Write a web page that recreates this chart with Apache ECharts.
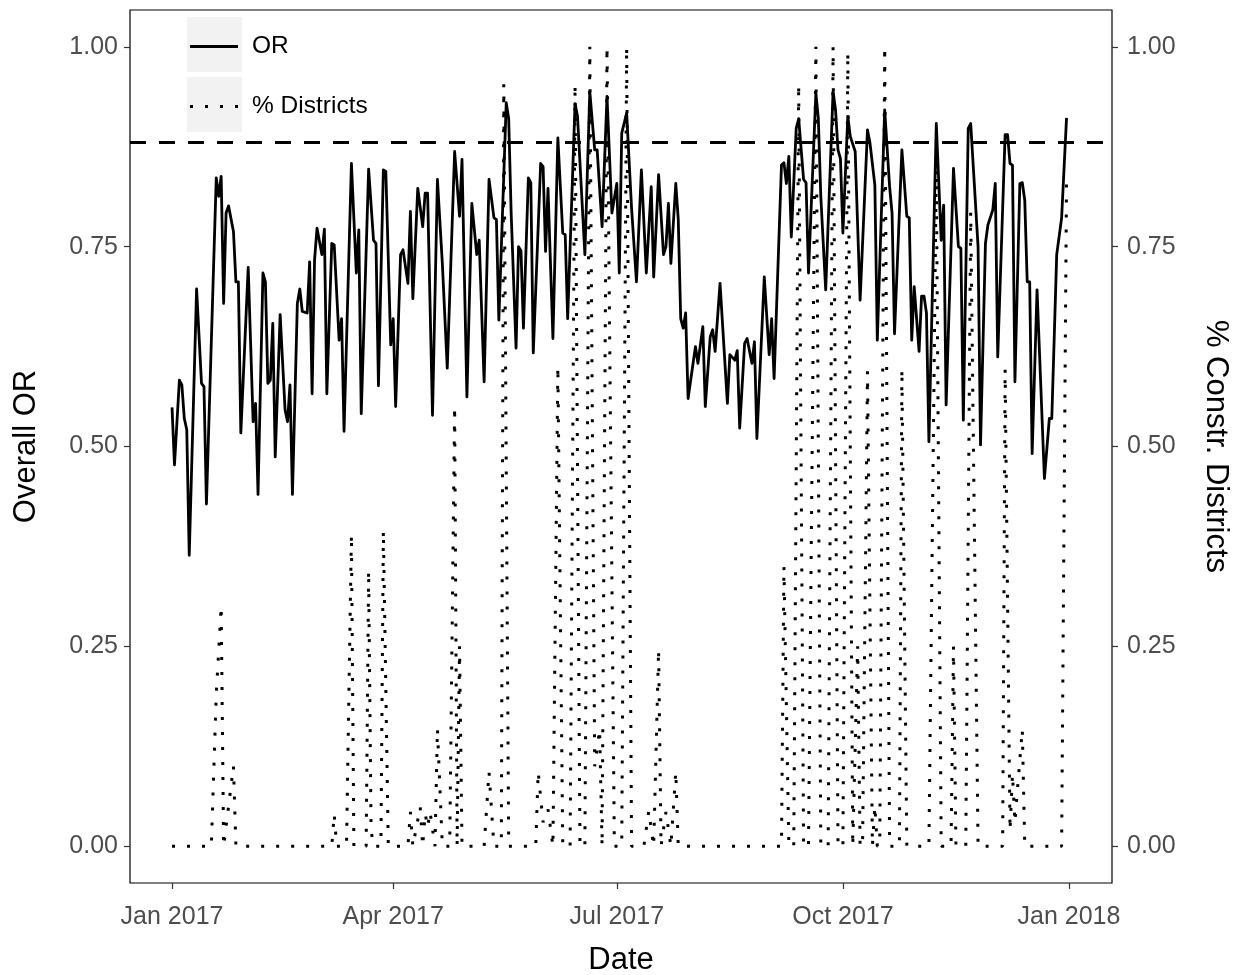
<!DOCTYPE html>
<html><head><meta charset="utf-8">
<script src="https://cdn.jsdelivr.net/npm/echarts@6/dist/echarts.min.js"></script>
<style>html,body{margin:0;padding:0;background:#fff}#chart{width:1233px;height:975px}</style>
</head><body><div id="chart"></div>
<script>
// Dates are stored as day offsets from startDate
const startDate = '2017-01-01';

const orDay = [0,1,3,4,5,6,7,10,12,13,14,18,19,20,21,22,23,25,26,27,28,31,33,34,35,37,38,39,40,41,42,44,46,47,48,49,51,52,53,55,56,57,58,59,61,62,63,65,66,68,69,70,73,75,76,77,80,82,83,84,86,87,89,90,91,93,94,96,97,98,100,102,103,104,106,108,110,112,115,117,118,120,122,124,125,127,129,131,132,133,136,137,138,140,141,142,143,145,146,147,150,151,152,153,155,157,159,160,161,164,165,168,170,172,173,175,177,179,181,182,183,185,187,189,191,193,195,196,198,200,201,202,203,205,206,207,208,209,210,213,214,216,217,219,220,221,223,226,227,229,230,231,233,234,236,237,238,241,243,244,245,248,249,250,251,252,254,255,257,258,259,262,263,264,266,269,270,271,272,273,275,276,278,280,283,284,286,287,290,292,293,294,297,298,299,300,301,302,304,305,306,307,308,311,313,314,315,318,320,321,322,324,325,328,329,331,332,334,335,336,339,340,341,342,343,345,346,347,348,349,350,352,355,357,358,360,362,364];
const orValue = [0.549,0.477,0.583,0.577,0.535,0.521,0.364,0.697,0.579,0.575,0.428,0.836,0.813,0.838,0.679,0.792,0.801,0.769,0.706,0.706,0.517,0.724,0.531,0.554,0.440,0.717,0.706,0.579,0.583,0.654,0.487,0.665,0.546,0.531,0.577,0.440,0.679,0.697,0.669,0.667,0.731,0.566,0.733,0.773,0.740,0.772,0.566,0.754,0.752,0.633,0.660,0.519,0.854,0.717,0.771,0.541,0.847,0.758,0.754,0.576,0.846,0.844,0.627,0.660,0.550,0.740,0.746,0.704,0.794,0.685,0.823,0.775,0.817,0.817,0.539,0.834,0.729,0.598,0.869,0.788,0.859,0.562,0.804,0.740,0.758,0.581,0.834,0.786,0.784,0.658,0.930,0.910,0.792,0.623,0.750,0.745,0.648,0.836,0.830,0.617,0.854,0.850,0.744,0.823,0.635,0.886,0.767,0.765,0.660,0.929,0.913,0.740,0.944,0.871,0.871,0.775,0.938,0.792,0.829,0.717,0.892,0.917,0.798,0.706,0.846,0.717,0.825,0.712,0.840,0.740,0.750,0.804,0.729,0.829,0.784,0.660,0.648,0.667,0.560,0.625,0.604,0.650,0.550,0.637,0.646,0.619,0.704,0.554,0.615,0.608,0.620,0.523,0.629,0.635,0.604,0.631,0.510,0.712,0.615,0.660,0.585,0.852,0.855,0.829,0.863,0.762,0.898,0.910,0.834,0.830,0.717,0.942,0.910,0.813,0.696,0.944,0.921,0.871,0.860,0.767,0.913,0.888,0.869,0.683,0.896,0.880,0.827,0.633,0.921,0.825,0.792,0.641,0.871,0.830,0.788,0.786,0.633,0.700,0.619,0.688,0.688,0.667,0.506,0.904,0.758,0.802,0.552,0.848,0.750,0.748,0.533,0.898,0.904,0.750,0.502,0.754,0.777,0.796,0.829,0.612,0.890,0.890,0.854,0.852,0.581,0.829,0.830,0.808,0.706,0.706,0.491,0.696,0.460,0.535,0.535,0.740,0.786,0.911];

const districtDay = [0,16,18,20,21,25,26,65,66,67,71,73,74,79,80,81,82,85,86,88,96,97,98,101,102,103,104,105,107,108,110,113,115,116,117,118,127,129,131,134,135,137,148,149,151,153,155,157,159,162,164,166,168,170,172,174,175,177,180,183,185,187,192,194,196,198,199,201,203,205,206,248,249,251,253,255,257,259,262,264,267,269,271,273,275,277,279,280,281,283,285,286,287,288,290,292,296,297,299,308,311,313,317,318,319,323,325,328,338,339,341,342,343,344,346,347,362,364];
const districtValue = [0,0,0.19,0.30,0,0.10,0,0,0.04,0,0,0.39,0,0,0.345,0.02,0,0,0.395,0,0,0.043,0,0.049,0,0.041,0.024,0.043,0,0.147,0,0,0.55,0,0.25,0,0,0.093,0,0,0.953,0,0,0.093,0.03,0.046,0,0.60,0,0,0.953,0,0,1.0,0.10,0.146,0,1.0,0,0,1.0,0,0,0.044,0,0.246,0,0.043,0,0.093,0,0,0.35,0,0,0.953,0,0,1.0,0,0,1.0,0,0,0.993,0,0.25,0,0,0.594,0,0.05,0,0,1.0,0,0,0.597,0,0,0.847,0,0,0.25,0,0,0.793,0,0,0.597,0.02,0.09,0.03,0.07,0.146,0,0,0.834];

const targetOR = 0.88;
const tickDates = ['2017-01-01','2017-04-01','2017-07-01','2017-10-01','2018-01-01'];
const tickLabels = ['Jan 2017','Apr 2017','Jul 2017','Oct 2017','Jan 2018'];
const yTicks = [0, 0.25, 0.5, 0.75, 1];
const seriesNames = ['OR', '% Districts'];

const DAY = 86400000;
const t0 = Date.parse(startDate + 'T00:00:00Z');
const toTime = d => t0 + d * DAY;
const orData = orDay.map((d, i) => [toTime(d), orValue[i]]);
const districtData = districtDay.map((d, i) => [toTime(d), districtValue[i]]);
const tickTimes = tickDates.map(s => Date.parse(s + 'T00:00:00Z'));

const FONT = 'Liberation Sans, Arial, Helvetica, sans-serif';
const tickFont = 25, titleFont = 31, legendFont = 24.5;

const chart = echarts.init(document.getElementById('chart'), null, {renderer: 'canvas'});

function yAxisCfg(name, pos, rot, labelMargin) {
  return {
    type: 'value', position: pos, min: -0.046, max: 1.046,
    name: name, nameLocation: 'middle', nameGap: 88, nameRotate: rot,
    nameTextStyle: {fontFamily: FONT, fontSize: titleFont, color: '#000'},
    splitLine: {show: false},
    axisLine: {show: false, onZero: false},
    axisTick: {show: true, customValues: yTicks, length: 6, inside: false, lineStyle: {color: '#333', width: 1.2}},
    axisLabel: {customValues: yTicks, formatter: v => v.toFixed(2), fontFamily: FONT, fontSize: tickFont, color: '#4d4d4d', margin: labelMargin}
  };
}

chart.setOption({
  animation: false,
  backgroundColor: '#fff',
  grid: {left: 130, right: 121, top: 10, bottom: 92, show: true, borderColor: '#000', borderWidth: 1.2, containLabel: false, outerBoundsMode: 'none'},
  graphic: [
    {type: 'rect', z: 1, shape: {x: 187, y: 17, width: 55, height: 55}, style: {fill: '#f2f2f2'}},
    {type: 'rect', z: 1, shape: {x: 187, y: 77, width: 55, height: 55}, style: {fill: '#f2f2f2'}}
  ],
  legend: {
    orient: 'vertical', left: 190, top: 34, padding: 0, itemWidth: 48, itemHeight: 3, itemGap: 35,
    data: [
      {name: seriesNames[0], icon: 'path://M0,0H48V3H0Z'},
      {name: seriesNames[1], icon: 'path://M0,0H3V3H0Z M15,0H18V3H15Z M30,0H33V3H30Z M45,0H48V3H45Z'}
    ],
    itemStyle: {color: '#000', borderWidth: 0},
    lineStyle: {width: 0, opacity: 0},
    textStyle: {fontFamily: FONT, fontSize: legendFont, color: '#000', padding: [0, 0, 0, 9]}
  },
  xAxis: {
    type: 'value', min: t0 - 17.1 * DAY, max: t0 + 382.5 * DAY,
    name: 'Date', nameLocation: 'middle', nameGap: 62,
    nameTextStyle: {fontFamily: FONT, fontSize: titleFont, color: '#000'},
    splitLine: {show: false},
    axisLine: {show: false, onZero: false},
    axisTick: {show: true, customValues: tickTimes, length: 6, lineStyle: {color: '#333', width: 1.2}},
    axisLabel: {
      customValues: tickTimes, fontFamily: FONT, fontSize: tickFont, color: '#4d4d4d', margin: 22,
      formatter: v => {
        let best = 0;
        tickTimes.forEach((t, i) => { if (Math.abs(t - v) < Math.abs(tickTimes[best] - v)) best = i; });
        return tickLabels[best];
      }
    }
  },
  yAxis: [yAxisCfg('Overall OR', 'left', 90, 12), yAxisCfg('% Constr. Districts', 'right', -90, 15)],
  series: [
    {
      name: seriesNames[0], type: 'line', yAxisIndex: 0, data: orData,
      showSymbol: false, symbol: 'none',
      lineStyle: {color: '#000', width: 2.8, join: 'round'},
      itemStyle: {color: '#000'},
      markLine: {
        silent: true, symbol: 'none', label: {show: false},
        lineStyle: {color: '#000', width: 3, type: [16, 13]},
        data: [{yAxis: targetOR}]
      }
    },
    {
      name: seriesNames[1], type: 'line', yAxisIndex: 1, data: districtData,
      showSymbol: false, symbol: 'none',
      lineStyle: {color: '#000', width: 3, type: [3, 12], cap: 'butt'},
      itemStyle: {color: '#000'}
    }
  ]
});
</script></body></html>
